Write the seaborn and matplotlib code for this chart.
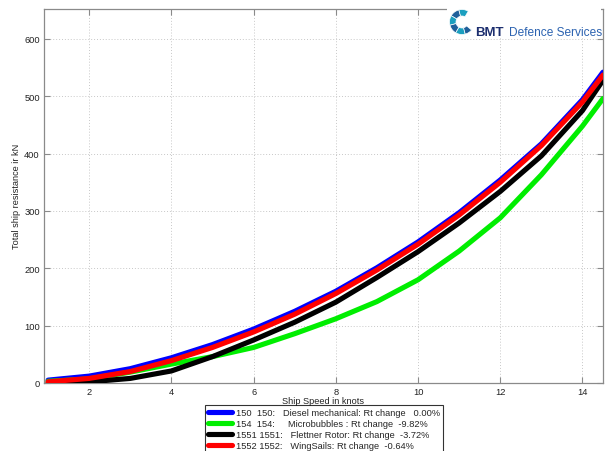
import matplotlib
matplotlib.use("Agg")
import matplotlib.pyplot as plt
from matplotlib.lines import Line2D
from matplotlib.patches import Rectangle, Wedge
import numpy as np
import pandas as pd
import seaborn as sns

# Ship speed (knots) and total resistance (kN) per configuration
speed = [1, 2, 3, 4, 5, 6, 7, 8, 9, 10, 11, 12, 13, 14, 14.5]
diesel = [5, 12, 25, 44, 67, 94, 125, 160, 201, 246, 297, 354, 417, 494, 542]
microbubbles = [3, 7, 19, 33, 46, 62, 86, 112, 142, 180, 230, 288, 363, 448, 496]
flettner = [0, 2, 8, 21, 46, 75, 106, 141, 184, 229, 279, 334, 396, 475, 528]
wingsails = [2, 8, 20, 39, 62, 89, 120, 156, 197, 242, 293, 350, 414, 490, 537]

series_names = ["Diesel", "Microbubbles", "Flettner", "WingSails"]
series_values = [diesel, microbubbles, flettner, wingsails]
series_colors = ["#0000ff", "#00ee00", "#000000", "#ff0000"]
legend_labels = [
    "150  150:   Diesel mechanical: Rt change   0.00%",
    "154  154:     Microbubbles : Rt change  -9.82%",
    "1551 1551:   Flettner Rotor: Rt change  -3.72%",
    "1552 1552:   WingSails: Rt change  -0.64%",
]
x_ticks = [2, 4, 6, 8, 10, 12, 14]
y_ticks = [0, 100, 200, 300, 400, 500, 600]

df = pd.concat(
    [pd.DataFrame({"speed": speed, "resistance": v, "case": n})
     for n, v in zip(series_names, series_values)],
    ignore_index=True,
)

sns.set_theme(style="white")
plt.rcParams["font.family"] = ["Liberation Sans", "DejaVu Sans"]

W, H = 608, 452
fig = plt.figure(figsize=(W / 100, H / 100), dpi=100)
ax = fig.add_axes([44 / W, 1 - 384 / H, (603 - 44) / W, (384 - 9.5) / H])

sns.lineplot(data=df, x="speed", y="resistance", hue="case",
             hue_order=series_names, palette=series_colors,
             linewidth=3.7, ax=ax, legend=False, zorder=3)

ax.set_xlim(0.9, 14.5)
ax.set_ylim(0, 653)
ax.set_xticks(x_ticks)
ax.set_yticks(y_ticks)
ax.grid(True, linestyle=(0, (1, 2)), color="#c8c8c8", linewidth=0.7)
for s in ax.spines.values():
    s.set_color("#8a8a8a")
    s.set_linewidth(0.9)
ax.tick_params(direction="in", length=4, width=0.8, color="#8a8a8a",
               labelsize=6.7, labelcolor="#222222",
               top=True, right=True, bottom=True, left=True, pad=3)
ax.set_xlabel("Ship Speed in knots", fontsize=6.6, color="#222222", labelpad=0)
ax.set_ylabel("Total ship resistance ir kN", fontsize=6.6, color="#222222",
              labelpad=2)

handles = [Line2D([], [], color=c, linewidth=3.7) for c in series_colors]
leg = fig.legend(handles, legend_labels, loc="upper left",
                 bbox_to_anchor=(205 / W, 1 - 406 / H), fontsize=6.65,
                 frameon=True, fancybox=False, shadow=False,
                 handlelength=2.6, handletextpad=0.5, labelspacing=0.22,
                 borderpad=0.3, borderaxespad=0)
leg.get_frame().set_edgecolor("#000000")
leg.get_frame().set_linewidth(0.8)

# Company logo in the top-right corner
fig.patches.append(Rectangle((447 / W, 1 - 38 / H), 154 / W, 38 / H,
                             transform=fig.transFigure, facecolor="white",
                             edgecolor="none", zorder=5))
cx, cy, r = 462, 23, 12.5
for i, (a0, a1) in enumerate([(60, 105), (105, 150), (150, 195),
                              (195, 240), (240, 285), (285, 320)]):
    col = "#1b9fbf" if i % 2 == 0 else "#1f5f9a"
    fig.patches.append(Wedge((cx, H - cy), r, a0, a1, width=6.5,
                             transform=None, facecolor=col,
                             edgecolor="white", linewidth=0.5, zorder=6))
fig.text(475 / W, 1 - 36 / H, "BMT", fontsize=9.5, fontweight="bold",
         color="#1d2f6f", va="baseline", ha="left", zorder=7)
fig.text(509 / W, 1 - 36 / H, "Defence Services", fontsize=8.6,
         color="#2b62b0", va="baseline", ha="left", zorder=7)

fig.savefig("out.png", dpi=100)
